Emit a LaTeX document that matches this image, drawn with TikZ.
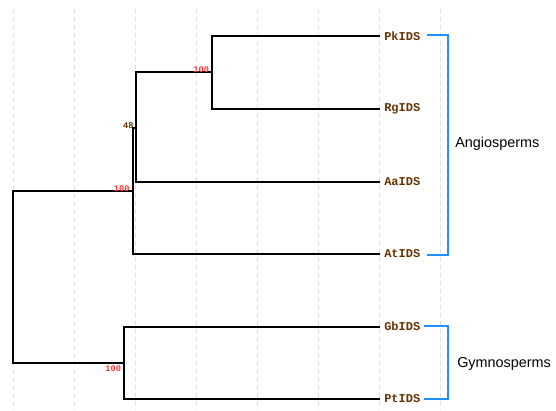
\documentclass[tikz,border=0pt]{standalone}
\usepackage{fontspec}
\setmainfont{Liberation Sans}
\newfontfamily\treemono{Liberation Mono}
\definecolor{leafbrown}{RGB}{102,51,0}
\definecolor{bootred}{RGB}{255,51,51}
\definecolor{cladeblue}{RGB}{30,144,255}
\definecolor{gridgrey}{RGB}{220,220,220}
\tikzset{
  branch/.style={line width=1.5pt, black, line join=miter},
  gridline/.style={line width=0.75pt, gridgrey, dash pattern=on 3pt off 3pt},
  leaf/.style={font=\treemono\bfseries\fontsize{9}{10}\selectfont, text=leafbrown,
               anchor=west, inner xsep=3pt, inner ysep=0pt},
  boot/.style={font=\treemono\bfseries\fontsize{6.5}{7}\selectfont, inner sep=0.5pt},
  bracket/.style={line width=1.5pt, cladeblue},
  clade/.style={font=\fontsize{10.8}{12}\selectfont, anchor=west, inner sep=0pt}
}
\begin{document}
\begin{tikzpicture}[x=0.75pt, y=-0.75pt]
  \useasboundingbox (0,0) rectangle (556,410);
  % background grid
  \foreach \k in {0,...,7}
    \draw[gridline] ({13.3+61*\k},9) -- ({13.3+61*\k},410);

  % leaves
  \node[leaf] (pk) at (380,36) {PkIDS};
  \node[leaf] (rg) at (380,109) {RgIDS};
  \node[leaf] (aa) at (380,181.5) {AaIDS};
  \node[leaf] (at) at (380,254) {AtIDS};
  \node[leaf] (gb) at (380,326.5) {GbIDS};
  \node[leaf] (pt) at (380,399) {PtIDS};

  % internal nodes
  \coordinate (n1) at (212,72.5);
  \coordinate (n2) at (136,128);
  \coordinate (n3) at (132.5,191);
  \coordinate (n4) at (124,362.7);
  \coordinate (root) at (13.3,277);

  % branches
  \draw[branch] (pk.west) -| (n1) |- (rg.west);
  \draw[branch] (n1) -| (n2) |- (aa.west);
  \draw[branch] (n2) -| (n3) |- (at.west);
  \draw[branch] (n3) -| (root) |- (n4);
  \draw[branch] (gb.west) -| (n4) |- (pt.west);

  % bootstrap values
  \node[boot, text=bootred, anchor=south east] (b1) at ([xshift=-1.5pt,yshift=-1pt]n1) {100};
  \node[boot, text=leafbrown, anchor=south east] (b2) at ([xshift=-1.2pt,yshift=-1pt]n2) {48};
  \node[boot, text=bootred, anchor=south east] (b3) at ([xshift=-1.5pt,yshift=-1pt]n3) {100};
  \node[boot, text=bootred, anchor=north east] (b4) at ([xshift=-1.5pt,yshift=-1.5pt]n4) {100};

  % clade brackets
  \coordinate (a1) at (427,35);
  \coordinate (a2) at (427,255);
  \coordinate (g1) at (424,326);
  \coordinate (g2) at (424,398.7);
  \draw[bracket] (a1) -- (447.5,35) -- (447.5,255) -- (a2);
  \draw[bracket] (g1) -- (447.5,326) -- (447.5,398.7) -- (g2);
  \node[clade] (angio) at (455,144) {Angiosperms};
  \node[clade] (gymno) at (457,363.5) {Gymnosperms};
\end{tikzpicture}
\end{document}
